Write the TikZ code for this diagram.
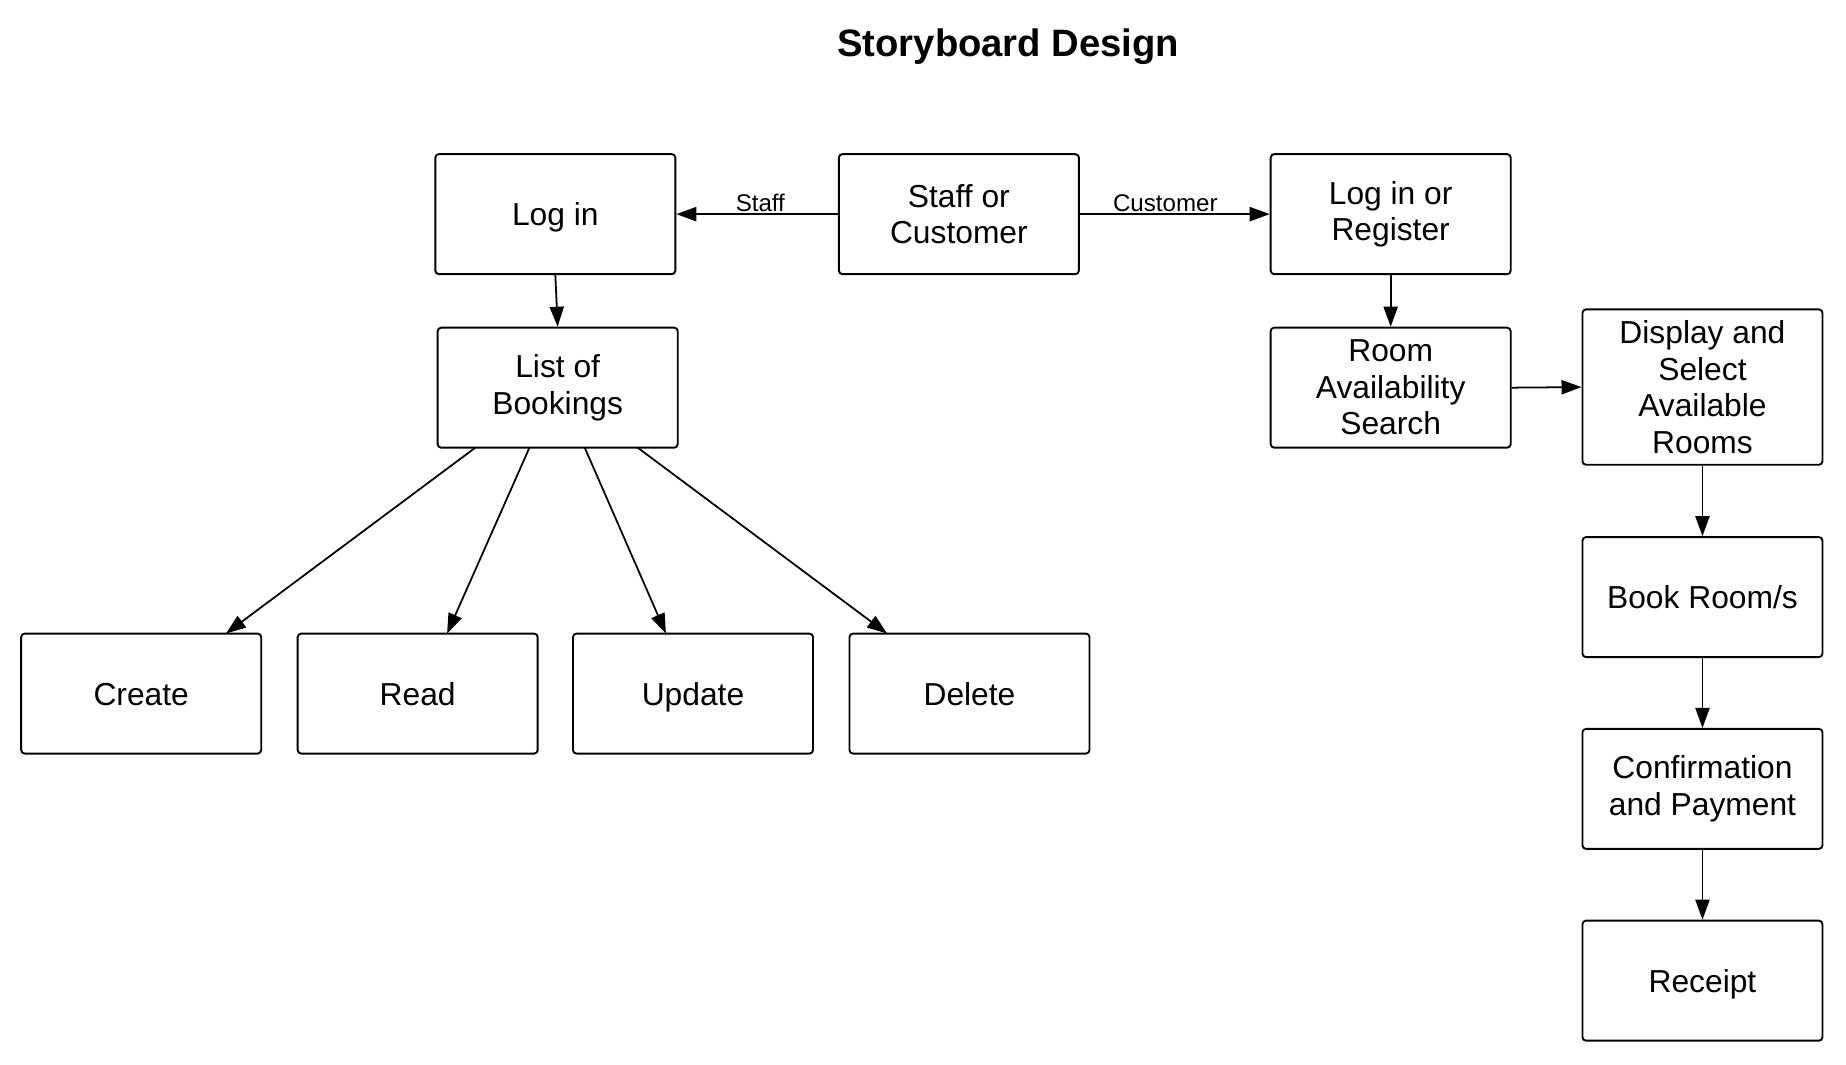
\documentclass[tikz,border=0pt]{standalone}
\usepackage{fontspec}
\setmainfont{Liberation Sans}
\usetikzlibrary{arrows.meta}
\begin{document}
\begin{tikzpicture}[x=1pt,y=-1pt,
  box/.style={draw=black,line width=1.6pt,rounded corners=3pt,minimum width=204pt,minimum height=102pt,
    inner sep=0pt,align=center,font=\fontsize{27}{31}\selectfont},
  onebox/.style={box,text height=19.5pt,text depth=0pt},
  tallbox/.style={box,minimum height=132pt},
  conn/.style={line width=1.5pt,-{Triangle[length=17pt,width=12pt]}},
  lbl/.style={font=\fontsize{20.5}{24}\selectfont,inner sep=1pt}]
\useasboundingbox (0,0) rectangle (1569,904.35);
\fill[white] (0,0) rectangle (1569,904.35);
\node[font=\bfseries\fontsize{32.5}{36}\selectfont] (title) at (857,40) {Storyboard Design};
\node[onebox] (login) at (472,182) {Log in};
\node[box] (soc) at (815,182) {Staff or\\Customer};
\node[box] (lor) at (1182,182) {Log in or\\Register};
\node[box] (list) at (474,329.5) {List of\\Bookings};
\node[box] (ras) at (1182,329.5) {Room\\Availability\\Search};
\node[tallbox] (disp) at (1447,329) {Display and\\Select\\Available\\Rooms};
\node[onebox] (book) at (1447,507.5) {Book Room/s};
\node[box] (conf) at (1447,670.5) {Confirmation\\and Payment};
\node[onebox] (rec) at (1447,833.5) {Receipt};
\node[onebox] (create) at (120,589.5) {Create};
\node[onebox] (read) at (355,589.5) {Read};
\node[onebox] (update) at (589,589.5) {Update};
\node[onebox] (delete) at (824,589.5) {Delete};
\draw[conn] (soc.west) -- node[lbl,above,pos=0.48] {Staff} (login.east);
\draw[conn] (soc.east) -- node[lbl,above,pos=0.45] {Customer} (lor.west);
\draw[conn] (login.south) -- (list.north);
\draw[conn] (lor.south) -- (ras.north);
\draw[conn] (ras.east) -- (disp.west);
\draw[conn] (disp.south) -- (book.north);
\draw[conn] (book.south) -- (conf.north);
\draw[conn] (conf.south) -- (rec.north);
\coordinate (l1) at (404,380.5);
\coordinate (l2) at (450,380.5);
\coordinate (l3) at (497,380.5);
\coordinate (l4) at (542,380.5);
\coordinate (c1) at (192,538.5);
\coordinate (c2) at (380,538.5);
\coordinate (c3) at (566,538.5);
\coordinate (c4) at (754,538.5);
\draw[conn] (l1) -- (c1);
\draw[conn] (l2) -- (c2);
\draw[conn] (l3) -- (c3);
\draw[conn] (l4) -- (c4);
\end{tikzpicture}
\end{document}
